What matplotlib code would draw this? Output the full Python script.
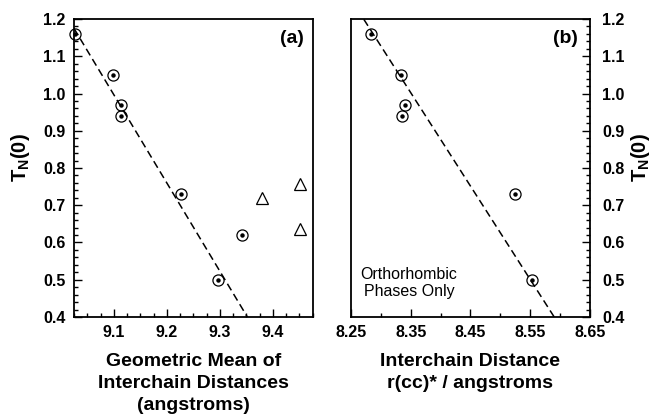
import numpy as np
import matplotlib
matplotlib.use('Agg')
import matplotlib.pyplot as plt
from matplotlib.ticker import MultipleLocator

plt.rcParams['font.family'] = 'Liberation Sans'
plt.rcParams['font.weight'] = 'bold'

# Panel (a): geometric mean of interchain distances
gm_dist = [9.026, 9.098, 9.113, 9.113, 9.226, 9.297, 9.341]
gm_tn = [1.16, 1.05, 0.97, 0.94, 0.73, 0.50, 0.62]
gm_other_dist = [9.380, 9.452, 9.452]
gm_other_tn = [0.72, 0.756, 0.636]
fit_a = (-2.37, 22.564)   # slope, intercept

# Panel (b): interchain distance r(cc)*, orthorhombic phases
rcc_dist = [8.283, 8.333, 8.340, 8.335, 8.525, 8.553]
rcc_tn = [1.16, 1.05, 0.97, 0.94, 0.73, 0.50]
fit_b = (-2.508, 21.944)

yticks = [0.4, 0.5, 0.6, 0.7, 0.8, 0.9, 1.0, 1.1, 1.2]
ylabel = r'T$_\mathregular{N}$(0)'


def draw_points(ax, x, y):
    ax.plot(x, y, 'o', mfc='none', mec='black', ms=8, mew=0.9, zorder=3,
            clip_on=False)
    ax.plot(x, y, 'o', color='black', ms=2.2, zorder=4, clip_on=False)


def draw_fit(ax, fit, xlim):
    xs = np.linspace(xlim[0], xlim[1], 200)
    ax.plot(xs, fit[0] * xs + fit[1], color='black', lw=1.1,
            dashes=(5, 2.8), zorder=2)


def style_axis(ax, side):
    for s in ax.spines.values():
        s.set_linewidth(1.3)
    ax.set_ylim(0.4, 1.2)
    ax.set_yticks(yticks)
    ax.yaxis.set_minor_locator(MultipleLocator(0.02))
    ax.tick_params(which='both', direction='in', top=False, width=1.0,
                   labelsize=11.5)
    ax.tick_params(which='major', length=6)
    ax.tick_params(which='minor', length=3)
    ax.tick_params(axis='x', which='both', pad=6)
    if side == 'right':
        ax.yaxis.tick_right()
        ax.yaxis.set_label_position('right')
        ax.tick_params(axis='y', which='both', left=False, right=True, pad=9)
        ax.set_ylabel(ylabel, fontsize=14.5, fontweight='bold', labelpad=3)
    else:
        ax.tick_params(axis='y', which='both', right=False, pad=6)
        ax.set_ylabel(ylabel, fontsize=14.5, fontweight='bold', labelpad=8)
    ax.yaxis.label.set_y(0.535)


fig = plt.figure(figsize=(6.53, 4.16), dpi=100)
ax1 = fig.add_axes([0.1133, 0.238, 0.3655, 0.7163])
ax2 = fig.add_axes([0.5375, 0.238, 0.366, 0.7163])

# (a)
xlim_a = (9.025, 9.475)
draw_fit(ax1, fit_a, xlim_a)
draw_points(ax1, gm_dist, gm_tn)
ax1.plot(gm_other_dist, gm_other_tn, '^', mfc='none', mec='black',
         ms=8, mew=0.9, zorder=3)
ax1.set_xlim(*xlim_a)
ax1.set_xticks([9.1, 9.2, 9.3, 9.4])
ax1.xaxis.set_minor_locator(MultipleLocator(0.025))
style_axis(ax1, 'left')
ax1.set_xlabel('Geometric Mean of\nInterchain Distances\n(angstroms)',
               fontsize=14, fontweight='bold', linespacing=1.4, labelpad=9)
ax1.text(0.912, 0.936, '(a)', transform=ax1.transAxes, ha='center',
         va='center', fontsize=14, fontweight='bold')

# (b)
xlim_b = (8.25, 8.65)
draw_fit(ax2, fit_b, xlim_b)
draw_points(ax2, rcc_dist, rcc_tn)
ax2.set_xlim(*xlim_b)
ax2.set_xticks([8.25, 8.35, 8.45, 8.55, 8.65])
ax2.xaxis.set_minor_locator(MultipleLocator(0.05))
style_axis(ax2, 'right')
ax2.set_xlabel('Interchain Distance\nr(cc)* / angstroms',
               fontsize=14, fontweight='bold', linespacing=1.4, labelpad=9)
ax2.text(0.899, 0.936, '(b)', transform=ax2.transAxes, ha='center',
         va='center', fontsize=14, fontweight='bold')
ax2.text(0.243, 0.114, 'Orthorhombic\nPhases Only', transform=ax2.transAxes,
         ha='center', va='center', fontsize=11.5, fontweight='normal',
         linespacing=1.1)

fig.savefig('out.png', dpi=100)
